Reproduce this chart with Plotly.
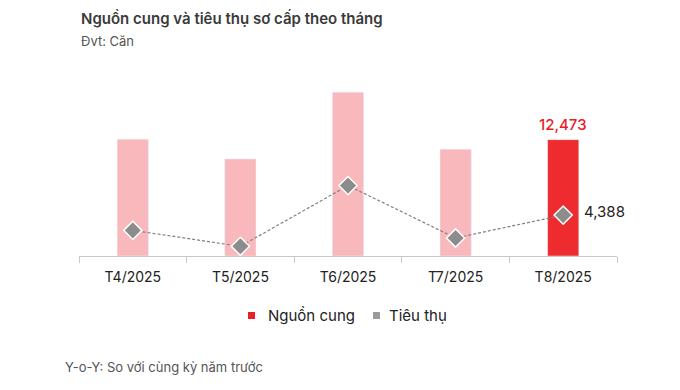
import plotly.graph_objects as go

months = ["T4/2025", "T5/2025", "T6/2025", "T7/2025", "T8/2025"]
supply = [12510, 10400, 17550, 11440, 12473]
absorption = [2750, 1040, 7550, 1930, 4388]
legend_names = ["Nguồn cung", "Tiêu thụ"]
legend_colors = ["#E8202A", "#9A9A9A"]

bar_colors = ["#F9B8BB"] * 4 + ["#EE2B2F"]
FONT = "Inter"

W, H = 680, 390
ML, MR, MT, MB = 79, 63, 70, 134
PW, PH = W - ML - MR, H - MT - MB


def px_x(p):
    return (p - ML) / PW


def px_y(p):
    return (H - MB - p) / PH


fig = go.Figure()
fig.add_trace(go.Bar(x=months, y=supply, marker_color=bar_colors, width=0.29,
                     showlegend=False, hoverinfo="x+y"))
fig.add_trace(go.Scatter(x=months, y=absorption, mode="lines+markers",
                         line=dict(color="#808080", width=1.2, dash="3px,2px"),
                         marker=dict(symbol="diamond", size=14, color="#8C8C8C",
                                     line=dict(color="white", width=1.5)),
                         showlegend=False))

fig.add_annotation(x=months[-1], y=supply[-1], text=f"{supply[-1]:,}", showarrow=False,
                   yshift=15, font=dict(family=FONT, size=15, color="#E8202A", weight=500))
fig.add_annotation(x=months[-1], y=absorption[-1], text=f"{absorption[-1]:,}", showarrow=False,
                   xanchor="left", xshift=19, yshift=4, font=dict(family=FONT, size=15, color="#222"))

fig.add_annotation(xref="paper", yref="paper", x=px_x(79), y=px_y(18), xanchor="left", yanchor="middle",
                   text="Nguồn cung và tiêu thụ sơ cấp theo tháng", showarrow=False,
                   font=dict(family=FONT, size=15, color="#3A3A3A", weight=600))
fig.add_annotation(xref="paper", yref="paper", x=px_x(79), y=px_y(41), xanchor="left", yanchor="middle",
                   text="Đvt: Căn", showarrow=False,
                   font=dict(family=FONT, size=13, color="#555"))
fig.add_annotation(xref="paper", yref="paper", x=px_x(63), y=px_y(367), xanchor="left", yanchor="middle",
                   text="Y-o-Y: So với cùng kỳ năm trước", showarrow=False,
                   font=dict(family=FONT, size=13, color="#555"))

# custom legend
sq_left = [248, 373]
txt_left = [266, 387]
for name, col, sl, tl in zip(legend_names, legend_colors, sq_left, txt_left):
    fig.add_shape(type="rect", xref="paper", yref="paper",
                  x0=px_x(sl), x1=px_x(sl + 7), y0=px_y(312), y1=px_y(319),
                  fillcolor=col, line_width=0)
    fig.add_annotation(xref="paper", yref="paper", x=px_x(tl), y=px_y(315.5),
                       xanchor="left", yanchor="middle", text=name, showarrow=False,
                       font=dict(family=FONT, size=15, color="#222"))

fig.update_layout(
    width=W, height=H,
    margin=dict(l=ML, r=MR, t=MT, b=MB),
    plot_bgcolor="white", paper_bgcolor="white",
    font=dict(family=FONT, color="#222"),
    showlegend=False,
    xaxis=dict(showline=True, linecolor="#C8C8C8", linewidth=1, ticks="outside",
               tickson="boundaries", ticklen=6, tickcolor="#C8C8C8", ticklabelstandoff=8,
               range=[-0.5, len(months) - 0.5],
               tickfont=dict(family=FONT, size=14, color="#222"), showgrid=False),
    yaxis=dict(range=[0, 19940], visible=False, showgrid=False),
)

fig.write_html("out.html", config={"responsive": False, "displayModeBar": False},
               post_script="document.body.style.margin='0';document.body.style.overflow='hidden';")
